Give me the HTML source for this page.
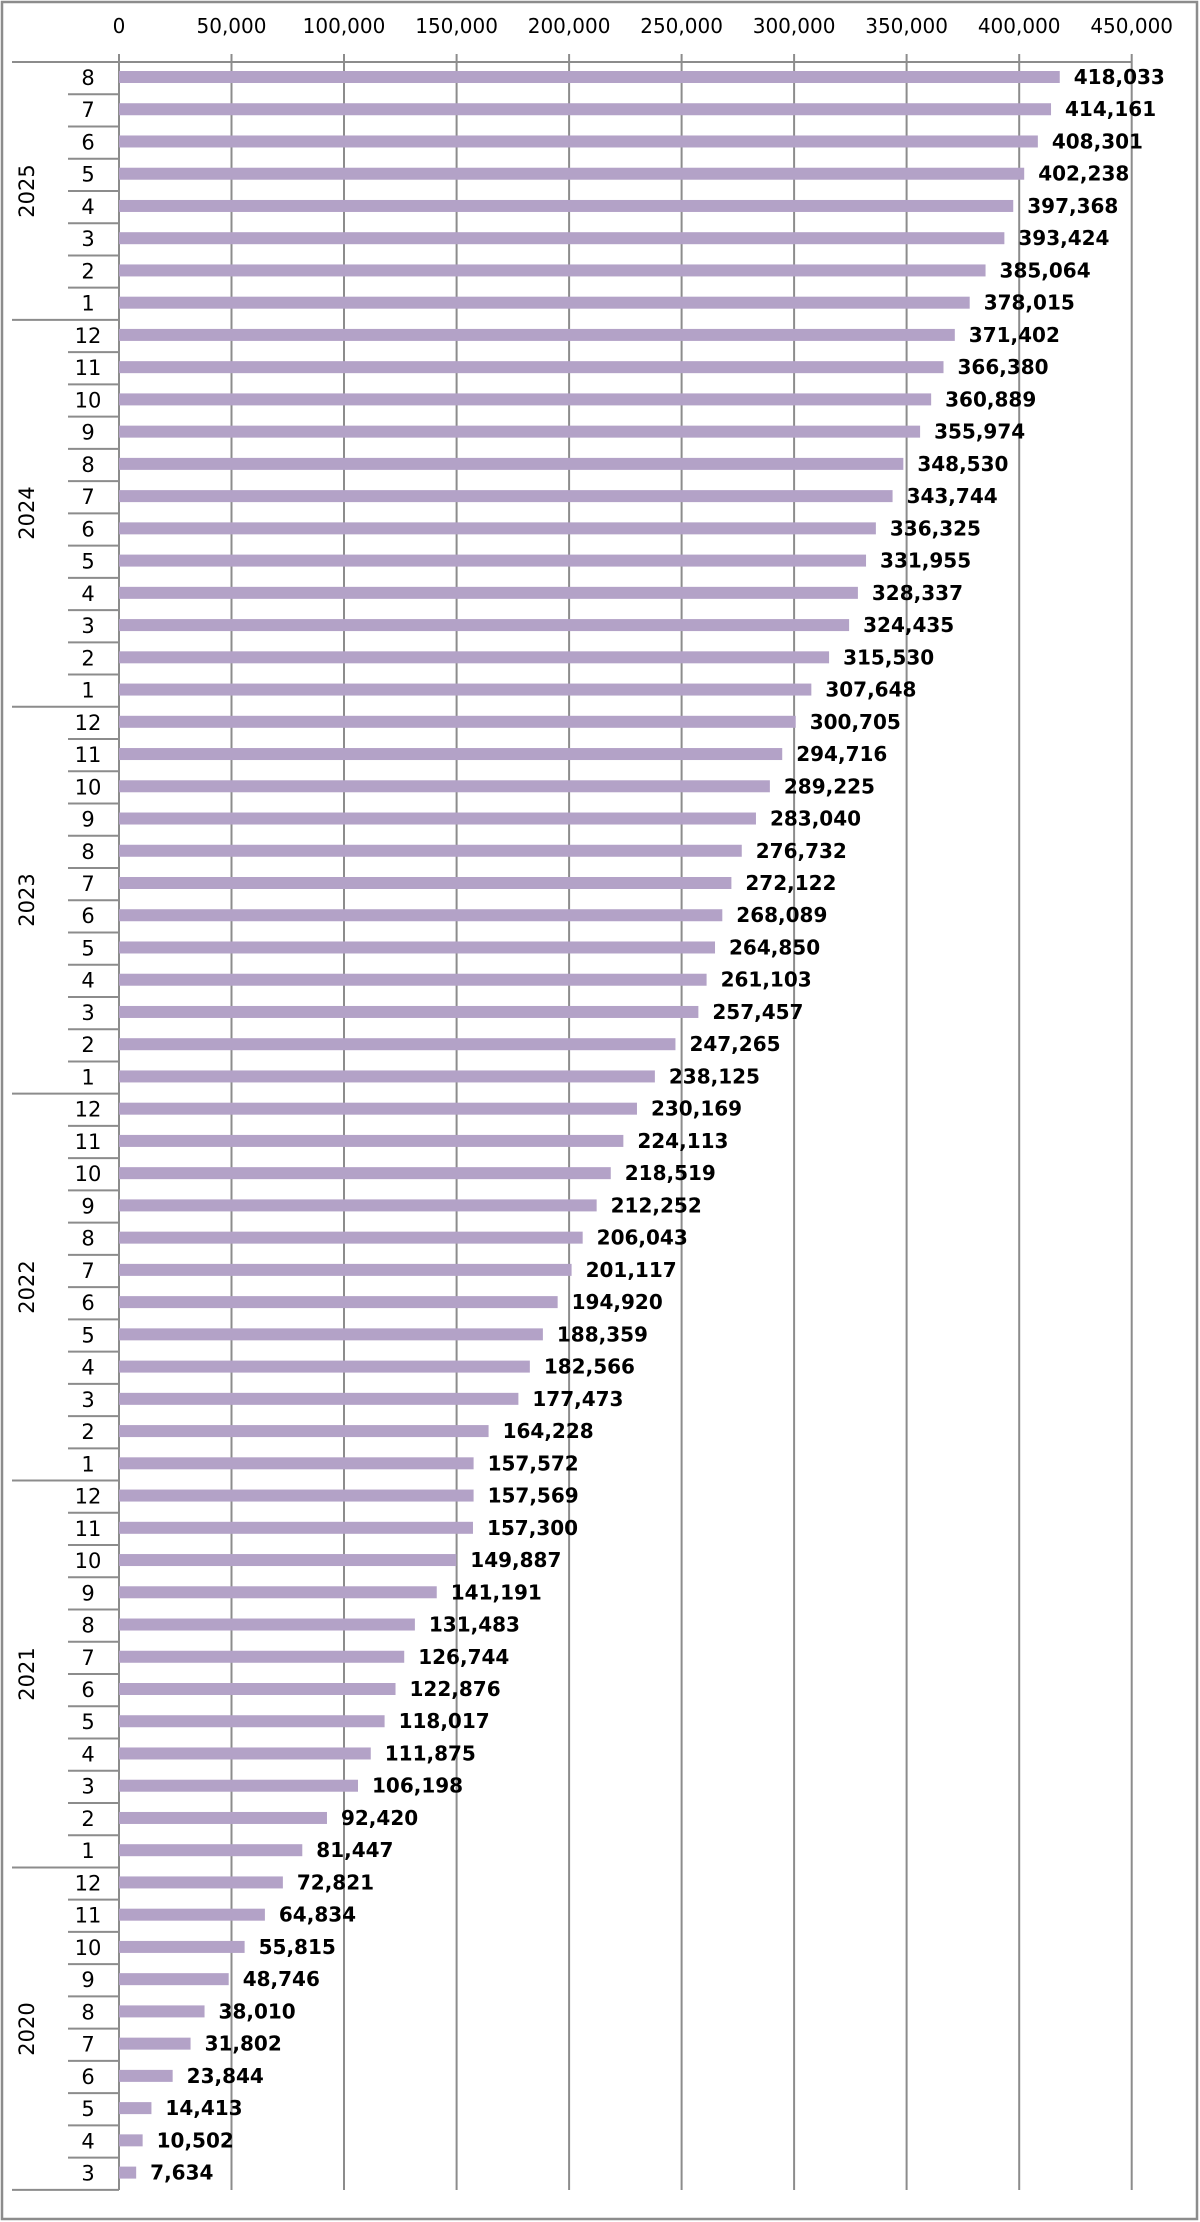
<!DOCTYPE html>
<html><head><meta charset="utf-8">
<style>
html,body{margin:0;padding:0;background:#fff;}
svg{display:block;}
text{font-family:"DejaVu Sans","Liberation Sans",sans-serif;fill:#000;}
.t{font-size:20px;text-anchor:middle;}
.m{font-size:21px;text-anchor:middle;}
.v{font-size:20px;font-weight:bold;}
.y{font-size:21px;text-anchor:middle;}
</style></head>
<body>
<svg width="1200" height="2222" viewBox="0 0 1200 2222" xmlns="http://www.w3.org/2000/svg">
<rect x="2" y="2" width="1195" height="2217" fill="#fff" stroke="#8c8c8c" stroke-width="2.5"/>
<g stroke="#8c8c8c" stroke-width="2">
<line x1="231.5" y1="54" x2="231.5" y2="2190"/>
<line x1="344" y1="54" x2="344" y2="2190"/>
<line x1="456.6" y1="54" x2="456.6" y2="2190"/>
<line x1="569.1" y1="54" x2="569.1" y2="2190"/>
<line x1="681.6" y1="54" x2="681.6" y2="2190"/>
<line x1="794.1" y1="54" x2="794.1" y2="2190"/>
<line x1="906.6" y1="54" x2="906.6" y2="2190"/>
<line x1="1019.2" y1="54" x2="1019.2" y2="2190"/>
<line x1="1131.7" y1="54" x2="1131.7" y2="2190"/>
<line x1="12" y1="62" x2="1132" y2="62"/>
<line x1="119" y1="54" x2="119" y2="2190"/>
</g>
<g>
<text class="t" x="119" y="33">0</text>
<text class="t" x="231.5" y="33">50,000</text>
<text class="t" x="344" y="33">100,000</text>
<text class="t" x="456.6" y="33">150,000</text>
<text class="t" x="569.1" y="33">200,000</text>
<text class="t" x="681.6" y="33">250,000</text>
<text class="t" x="794.1" y="33">300,000</text>
<text class="t" x="906.6" y="33">350,000</text>
<text class="t" x="1019.2" y="33">400,000</text>
<text class="t" x="1131.7" y="33">450,000</text>
</g>
<g>
<text class="y" transform="translate(34,191) rotate(-90)">2025</text>
<text class="y" transform="translate(34,513) rotate(-90)">2024</text>
<text class="y" transform="translate(34,900) rotate(-90)">2023</text>
<text class="y" transform="translate(34,1287) rotate(-90)">2022</text>
<text class="y" transform="translate(34,1674) rotate(-90)">2021</text>
<text class="y" transform="translate(34,2029) rotate(-90)">2020</text>
</g>
<g id="rows">
<g transform="translate(0,0)"><rect x="119" y="71" width="940.75" height="12" fill="#b3a2c7"/><text class="v" x="1073.75" y="84">418,033</text><text class="m" x="88" y="85">8</text><line x1="68" y1="94.24" x2="119" y2="94.24" stroke="#8c8c8c" stroke-width="2"/></g>
<g transform="translate(0,32.24)"><rect x="119" y="71" width="932.03" height="12" fill="#b3a2c7"/><text class="v" x="1065.03" y="84">414,161</text><text class="m" x="88" y="85">7</text><line x1="68" y1="94.24" x2="119" y2="94.24" stroke="#8c8c8c" stroke-width="2"/></g>
<g transform="translate(0,64.48)"><rect x="119" y="71" width="918.85" height="12" fill="#b3a2c7"/><text class="v" x="1051.85" y="84">408,301</text><text class="m" x="88" y="85">6</text><line x1="68" y1="94.24" x2="119" y2="94.24" stroke="#8c8c8c" stroke-width="2"/></g>
<g transform="translate(0,96.72)"><rect x="119" y="71" width="905.2" height="12" fill="#b3a2c7"/><text class="v" x="1038.2" y="84">402,238</text><text class="m" x="88" y="85">5</text><line x1="68" y1="94.24" x2="119" y2="94.24" stroke="#8c8c8c" stroke-width="2"/></g>
<g transform="translate(0,128.96)"><rect x="119" y="71" width="894.24" height="12" fill="#b3a2c7"/><text class="v" x="1027.24" y="84">397,368</text><text class="m" x="88" y="85">4</text><line x1="68" y1="94.24" x2="119" y2="94.24" stroke="#8c8c8c" stroke-width="2"/></g>
<g transform="translate(0,161.2)"><rect x="119" y="71" width="885.37" height="12" fill="#b3a2c7"/><text class="v" x="1018.37" y="84">393,424</text><text class="m" x="88" y="85">3</text><line x1="68" y1="94.24" x2="119" y2="94.24" stroke="#8c8c8c" stroke-width="2"/></g>
<g transform="translate(0,193.44)"><rect x="119" y="71" width="866.55" height="12" fill="#b3a2c7"/><text class="v" x="999.55" y="84">385,064</text><text class="m" x="88" y="85">2</text><line x1="68" y1="94.24" x2="119" y2="94.24" stroke="#8c8c8c" stroke-width="2"/></g>
<g transform="translate(0,225.68)"><rect x="119" y="71" width="850.69" height="12" fill="#b3a2c7"/><text class="v" x="983.69" y="84">378,015</text><text class="m" x="88" y="85">1</text><line x1="12" y1="94.24" x2="119" y2="94.24" stroke="#8c8c8c" stroke-width="2"/></g>
<g transform="translate(0,257.92)"><rect x="119" y="71" width="835.81" height="12" fill="#b3a2c7"/><text class="v" x="968.81" y="84">371,402</text><text class="m" x="88" y="85">12</text><line x1="68" y1="94.24" x2="119" y2="94.24" stroke="#8c8c8c" stroke-width="2"/></g>
<g transform="translate(0,290.16)"><rect x="119" y="71" width="824.51" height="12" fill="#b3a2c7"/><text class="v" x="957.51" y="84">366,380</text><text class="m" x="88" y="85">11</text><line x1="68" y1="94.24" x2="119" y2="94.24" stroke="#8c8c8c" stroke-width="2"/></g>
<g transform="translate(0,322.4)"><rect x="119" y="71" width="812.15" height="12" fill="#b3a2c7"/><text class="v" x="945.15" y="84">360,889</text><text class="m" x="88" y="85">10</text><line x1="68" y1="94.24" x2="119" y2="94.24" stroke="#8c8c8c" stroke-width="2"/></g>
<g transform="translate(0,354.64)"><rect x="119" y="71" width="801.09" height="12" fill="#b3a2c7"/><text class="v" x="934.09" y="84">355,974</text><text class="m" x="88" y="85">9</text><line x1="68" y1="94.24" x2="119" y2="94.24" stroke="#8c8c8c" stroke-width="2"/></g>
<g transform="translate(0,386.88)"><rect x="119" y="71" width="784.34" height="12" fill="#b3a2c7"/><text class="v" x="917.34" y="84">348,530</text><text class="m" x="88" y="85">8</text><line x1="68" y1="94.24" x2="119" y2="94.24" stroke="#8c8c8c" stroke-width="2"/></g>
<g transform="translate(0,419.12)"><rect x="119" y="71" width="773.57" height="12" fill="#b3a2c7"/><text class="v" x="906.57" y="84">343,744</text><text class="m" x="88" y="85">7</text><line x1="68" y1="94.24" x2="119" y2="94.24" stroke="#8c8c8c" stroke-width="2"/></g>
<g transform="translate(0,451.36)"><rect x="119" y="71" width="756.87" height="12" fill="#b3a2c7"/><text class="v" x="889.87" y="84">336,325</text><text class="m" x="88" y="85">6</text><line x1="68" y1="94.24" x2="119" y2="94.24" stroke="#8c8c8c" stroke-width="2"/></g>
<g transform="translate(0,483.6)"><rect x="119" y="71" width="747.04" height="12" fill="#b3a2c7"/><text class="v" x="880.04" y="84">331,955</text><text class="m" x="88" y="85">5</text><line x1="68" y1="94.24" x2="119" y2="94.24" stroke="#8c8c8c" stroke-width="2"/></g>
<g transform="translate(0,515.84)"><rect x="119" y="71" width="738.9" height="12" fill="#b3a2c7"/><text class="v" x="871.9" y="84">328,337</text><text class="m" x="88" y="85">4</text><line x1="68" y1="94.24" x2="119" y2="94.24" stroke="#8c8c8c" stroke-width="2"/></g>
<g transform="translate(0,548.08)"><rect x="119" y="71" width="730.11" height="12" fill="#b3a2c7"/><text class="v" x="863.11" y="84">324,435</text><text class="m" x="88" y="85">3</text><line x1="68" y1="94.24" x2="119" y2="94.24" stroke="#8c8c8c" stroke-width="2"/></g>
<g transform="translate(0,580.32)"><rect x="119" y="71" width="710.08" height="12" fill="#b3a2c7"/><text class="v" x="843.08" y="84">315,530</text><text class="m" x="88" y="85">2</text><line x1="68" y1="94.24" x2="119" y2="94.24" stroke="#8c8c8c" stroke-width="2"/></g>
<g transform="translate(0,612.56)"><rect x="119" y="71" width="692.34" height="12" fill="#b3a2c7"/><text class="v" x="825.34" y="84">307,648</text><text class="m" x="88" y="85">1</text><line x1="12" y1="94.24" x2="119" y2="94.24" stroke="#8c8c8c" stroke-width="2"/></g>
<g transform="translate(0,644.8)"><rect x="119" y="71" width="676.71" height="12" fill="#b3a2c7"/><text class="v" x="809.71" y="84">300,705</text><text class="m" x="88" y="85">12</text><line x1="68" y1="94.24" x2="119" y2="94.24" stroke="#8c8c8c" stroke-width="2"/></g>
<g transform="translate(0,677.04)"><rect x="119" y="71" width="663.23" height="12" fill="#b3a2c7"/><text class="v" x="796.23" y="84">294,716</text><text class="m" x="88" y="85">11</text><line x1="68" y1="94.24" x2="119" y2="94.24" stroke="#8c8c8c" stroke-width="2"/></g>
<g transform="translate(0,709.28)"><rect x="119" y="71" width="650.88" height="12" fill="#b3a2c7"/><text class="v" x="783.88" y="84">289,225</text><text class="m" x="88" y="85">10</text><line x1="68" y1="94.24" x2="119" y2="94.24" stroke="#8c8c8c" stroke-width="2"/></g>
<g transform="translate(0,741.52)"><rect x="119" y="71" width="636.96" height="12" fill="#b3a2c7"/><text class="v" x="769.96" y="84">283,040</text><text class="m" x="88" y="85">9</text><line x1="68" y1="94.24" x2="119" y2="94.24" stroke="#8c8c8c" stroke-width="2"/></g>
<g transform="translate(0,773.76)"><rect x="119" y="71" width="622.76" height="12" fill="#b3a2c7"/><text class="v" x="755.76" y="84">276,732</text><text class="m" x="88" y="85">8</text><line x1="68" y1="94.24" x2="119" y2="94.24" stroke="#8c8c8c" stroke-width="2"/></g>
<g transform="translate(0,806)"><rect x="119" y="71" width="612.39" height="12" fill="#b3a2c7"/><text class="v" x="745.39" y="84">272,122</text><text class="m" x="88" y="85">7</text><line x1="68" y1="94.24" x2="119" y2="94.24" stroke="#8c8c8c" stroke-width="2"/></g>
<g transform="translate(0,838.24)"><rect x="119" y="71" width="603.31" height="12" fill="#b3a2c7"/><text class="v" x="736.31" y="84">268,089</text><text class="m" x="88" y="85">6</text><line x1="68" y1="94.24" x2="119" y2="94.24" stroke="#8c8c8c" stroke-width="2"/></g>
<g transform="translate(0,870.48)"><rect x="119" y="71" width="596.02" height="12" fill="#b3a2c7"/><text class="v" x="729.02" y="84">264,850</text><text class="m" x="88" y="85">5</text><line x1="68" y1="94.24" x2="119" y2="94.24" stroke="#8c8c8c" stroke-width="2"/></g>
<g transform="translate(0,902.72)"><rect x="119" y="71" width="587.59" height="12" fill="#b3a2c7"/><text class="v" x="720.59" y="84">261,103</text><text class="m" x="88" y="85">4</text><line x1="68" y1="94.24" x2="119" y2="94.24" stroke="#8c8c8c" stroke-width="2"/></g>
<g transform="translate(0,934.96)"><rect x="119" y="71" width="579.38" height="12" fill="#b3a2c7"/><text class="v" x="712.38" y="84">257,457</text><text class="m" x="88" y="85">3</text><line x1="68" y1="94.24" x2="119" y2="94.24" stroke="#8c8c8c" stroke-width="2"/></g>
<g transform="translate(0,967.2)"><rect x="119" y="71" width="556.45" height="12" fill="#b3a2c7"/><text class="v" x="689.45" y="84">247,265</text><text class="m" x="88" y="85">2</text><line x1="68" y1="94.24" x2="119" y2="94.24" stroke="#8c8c8c" stroke-width="2"/></g>
<g transform="translate(0,999.44)"><rect x="119" y="71" width="535.88" height="12" fill="#b3a2c7"/><text class="v" x="668.88" y="84">238,125</text><text class="m" x="88" y="85">1</text><line x1="12" y1="94.24" x2="119" y2="94.24" stroke="#8c8c8c" stroke-width="2"/></g>
<g transform="translate(0,1031.68)"><rect x="119" y="71" width="517.97" height="12" fill="#b3a2c7"/><text class="v" x="650.97" y="84">230,169</text><text class="m" x="88" y="85">12</text><line x1="68" y1="94.24" x2="119" y2="94.24" stroke="#8c8c8c" stroke-width="2"/></g>
<g transform="translate(0,1063.92)"><rect x="119" y="71" width="504.35" height="12" fill="#b3a2c7"/><text class="v" x="637.35" y="84">224,113</text><text class="m" x="88" y="85">11</text><line x1="68" y1="94.24" x2="119" y2="94.24" stroke="#8c8c8c" stroke-width="2"/></g>
<g transform="translate(0,1096.16)"><rect x="119" y="71" width="491.76" height="12" fill="#b3a2c7"/><text class="v" x="624.76" y="84">218,519</text><text class="m" x="88" y="85">10</text><line x1="68" y1="94.24" x2="119" y2="94.24" stroke="#8c8c8c" stroke-width="2"/></g>
<g transform="translate(0,1128.4)"><rect x="119" y="71" width="477.65" height="12" fill="#b3a2c7"/><text class="v" x="610.65" y="84">212,252</text><text class="m" x="88" y="85">9</text><line x1="68" y1="94.24" x2="119" y2="94.24" stroke="#8c8c8c" stroke-width="2"/></g>
<g transform="translate(0,1160.64)"><rect x="119" y="71" width="463.68" height="12" fill="#b3a2c7"/><text class="v" x="596.68" y="84">206,043</text><text class="m" x="88" y="85">8</text><line x1="68" y1="94.24" x2="119" y2="94.24" stroke="#8c8c8c" stroke-width="2"/></g>
<g transform="translate(0,1192.88)"><rect x="119" y="71" width="452.59" height="12" fill="#b3a2c7"/><text class="v" x="585.59" y="84">201,117</text><text class="m" x="88" y="85">7</text><line x1="68" y1="94.24" x2="119" y2="94.24" stroke="#8c8c8c" stroke-width="2"/></g>
<g transform="translate(0,1225.12)"><rect x="119" y="71" width="438.65" height="12" fill="#b3a2c7"/><text class="v" x="571.65" y="84">194,920</text><text class="m" x="88" y="85">6</text><line x1="68" y1="94.24" x2="119" y2="94.24" stroke="#8c8c8c" stroke-width="2"/></g>
<g transform="translate(0,1257.36)"><rect x="119" y="71" width="423.89" height="12" fill="#b3a2c7"/><text class="v" x="556.89" y="84">188,359</text><text class="m" x="88" y="85">5</text><line x1="68" y1="94.24" x2="119" y2="94.24" stroke="#8c8c8c" stroke-width="2"/></g>
<g transform="translate(0,1289.6)"><rect x="119" y="71" width="410.85" height="12" fill="#b3a2c7"/><text class="v" x="543.85" y="84">182,566</text><text class="m" x="88" y="85">4</text><line x1="68" y1="94.24" x2="119" y2="94.24" stroke="#8c8c8c" stroke-width="2"/></g>
<g transform="translate(0,1321.84)"><rect x="119" y="71" width="399.39" height="12" fill="#b3a2c7"/><text class="v" x="532.39" y="84">177,473</text><text class="m" x="88" y="85">3</text><line x1="68" y1="94.24" x2="119" y2="94.24" stroke="#8c8c8c" stroke-width="2"/></g>
<g transform="translate(0,1354.08)"><rect x="119" y="71" width="369.58" height="12" fill="#b3a2c7"/><text class="v" x="502.58" y="84">164,228</text><text class="m" x="88" y="85">2</text><line x1="68" y1="94.24" x2="119" y2="94.24" stroke="#8c8c8c" stroke-width="2"/></g>
<g transform="translate(0,1386.32)"><rect x="119" y="71" width="354.6" height="12" fill="#b3a2c7"/><text class="v" x="487.6" y="84">157,572</text><text class="m" x="88" y="85">1</text><line x1="12" y1="94.24" x2="119" y2="94.24" stroke="#8c8c8c" stroke-width="2"/></g>
<g transform="translate(0,1418.56)"><rect x="119" y="71" width="354.59" height="12" fill="#b3a2c7"/><text class="v" x="487.59" y="84">157,569</text><text class="m" x="88" y="85">12</text><line x1="68" y1="94.24" x2="119" y2="94.24" stroke="#8c8c8c" stroke-width="2"/></g>
<g transform="translate(0,1450.8)"><rect x="119" y="71" width="353.98" height="12" fill="#b3a2c7"/><text class="v" x="486.98" y="84">157,300</text><text class="m" x="88" y="85">11</text><line x1="68" y1="94.24" x2="119" y2="94.24" stroke="#8c8c8c" stroke-width="2"/></g>
<g transform="translate(0,1483.04)"><rect x="119" y="71" width="337.31" height="12" fill="#b3a2c7"/><text class="v" x="470.31" y="84">149,887</text><text class="m" x="88" y="85">10</text><line x1="68" y1="94.24" x2="119" y2="94.24" stroke="#8c8c8c" stroke-width="2"/></g>
<g transform="translate(0,1515.28)"><rect x="119" y="71" width="317.74" height="12" fill="#b3a2c7"/><text class="v" x="450.74" y="84">141,191</text><text class="m" x="88" y="85">9</text><line x1="68" y1="94.24" x2="119" y2="94.24" stroke="#8c8c8c" stroke-width="2"/></g>
<g transform="translate(0,1547.52)"><rect x="119" y="71" width="295.89" height="12" fill="#b3a2c7"/><text class="v" x="428.89" y="84">131,483</text><text class="m" x="88" y="85">8</text><line x1="68" y1="94.24" x2="119" y2="94.24" stroke="#8c8c8c" stroke-width="2"/></g>
<g transform="translate(0,1579.76)"><rect x="119" y="71" width="285.23" height="12" fill="#b3a2c7"/><text class="v" x="418.23" y="84">126,744</text><text class="m" x="88" y="85">7</text><line x1="68" y1="94.24" x2="119" y2="94.24" stroke="#8c8c8c" stroke-width="2"/></g>
<g transform="translate(0,1612)"><rect x="119" y="71" width="276.52" height="12" fill="#b3a2c7"/><text class="v" x="409.52" y="84">122,876</text><text class="m" x="88" y="85">6</text><line x1="68" y1="94.24" x2="119" y2="94.24" stroke="#8c8c8c" stroke-width="2"/></g>
<g transform="translate(0,1644.24)"><rect x="119" y="71" width="265.59" height="12" fill="#b3a2c7"/><text class="v" x="398.59" y="84">118,017</text><text class="m" x="88" y="85">5</text><line x1="68" y1="94.24" x2="119" y2="94.24" stroke="#8c8c8c" stroke-width="2"/></g>
<g transform="translate(0,1676.48)"><rect x="119" y="71" width="251.76" height="12" fill="#b3a2c7"/><text class="v" x="384.76" y="84">111,875</text><text class="m" x="88" y="85">4</text><line x1="68" y1="94.24" x2="119" y2="94.24" stroke="#8c8c8c" stroke-width="2"/></g>
<g transform="translate(0,1708.72)"><rect x="119" y="71" width="238.99" height="12" fill="#b3a2c7"/><text class="v" x="371.99" y="84">106,198</text><text class="m" x="88" y="85">3</text><line x1="68" y1="94.24" x2="119" y2="94.24" stroke="#8c8c8c" stroke-width="2"/></g>
<g transform="translate(0,1740.96)"><rect x="119" y="71" width="207.98" height="12" fill="#b3a2c7"/><text class="v" x="340.98" y="84">92,420</text><text class="m" x="88" y="85">2</text><line x1="68" y1="94.24" x2="119" y2="94.24" stroke="#8c8c8c" stroke-width="2"/></g>
<g transform="translate(0,1773.2)"><rect x="119" y="71" width="183.29" height="12" fill="#b3a2c7"/><text class="v" x="316.29" y="84">81,447</text><text class="m" x="88" y="85">1</text><line x1="12" y1="94.24" x2="119" y2="94.24" stroke="#8c8c8c" stroke-width="2"/></g>
<g transform="translate(0,1805.44)"><rect x="119" y="71" width="163.88" height="12" fill="#b3a2c7"/><text class="v" x="296.88" y="84">72,821</text><text class="m" x="88" y="85">12</text><line x1="68" y1="94.24" x2="119" y2="94.24" stroke="#8c8c8c" stroke-width="2"/></g>
<g transform="translate(0,1837.68)"><rect x="119" y="71" width="145.9" height="12" fill="#b3a2c7"/><text class="v" x="278.9" y="84">64,834</text><text class="m" x="88" y="85">11</text><line x1="68" y1="94.24" x2="119" y2="94.24" stroke="#8c8c8c" stroke-width="2"/></g>
<g transform="translate(0,1869.92)"><rect x="119" y="71" width="125.61" height="12" fill="#b3a2c7"/><text class="v" x="258.61" y="84">55,815</text><text class="m" x="88" y="85">10</text><line x1="68" y1="94.24" x2="119" y2="94.24" stroke="#8c8c8c" stroke-width="2"/></g>
<g transform="translate(0,1902.16)"><rect x="119" y="71" width="109.7" height="12" fill="#b3a2c7"/><text class="v" x="242.7" y="84">48,746</text><text class="m" x="88" y="85">9</text><line x1="68" y1="94.24" x2="119" y2="94.24" stroke="#8c8c8c" stroke-width="2"/></g>
<g transform="translate(0,1934.4)"><rect x="119" y="71" width="85.54" height="12" fill="#b3a2c7"/><text class="v" x="218.54" y="84">38,010</text><text class="m" x="88" y="85">8</text><line x1="68" y1="94.24" x2="119" y2="94.24" stroke="#8c8c8c" stroke-width="2"/></g>
<g transform="translate(0,1966.64)"><rect x="119" y="71" width="71.57" height="12" fill="#b3a2c7"/><text class="v" x="204.57" y="84">31,802</text><text class="m" x="88" y="85">7</text><line x1="68" y1="94.24" x2="119" y2="94.24" stroke="#8c8c8c" stroke-width="2"/></g>
<g transform="translate(0,1998.88)"><rect x="119" y="71" width="53.66" height="12" fill="#b3a2c7"/><text class="v" x="186.66" y="84">23,844</text><text class="m" x="88" y="85">6</text><line x1="68" y1="94.24" x2="119" y2="94.24" stroke="#8c8c8c" stroke-width="2"/></g>
<g transform="translate(0,2031.12)"><rect x="119" y="71" width="32.43" height="12" fill="#b3a2c7"/><text class="v" x="165.43" y="84">14,413</text><text class="m" x="88" y="85">5</text><line x1="68" y1="94.24" x2="119" y2="94.24" stroke="#8c8c8c" stroke-width="2"/></g>
<g transform="translate(0,2063.36)"><rect x="119" y="71" width="23.63" height="12" fill="#b3a2c7"/><text class="v" x="156.63" y="84">10,502</text><text class="m" x="88" y="85">4</text><line x1="68" y1="94.24" x2="119" y2="94.24" stroke="#8c8c8c" stroke-width="2"/></g>
<g transform="translate(0,2095.6)"><rect x="119" y="71" width="17.18" height="12" fill="#b3a2c7"/><text class="v" x="150.18" y="84">7,634</text><text class="m" x="88" y="85">3</text><line x1="12" y1="94.24" x2="119" y2="94.24" stroke="#8c8c8c" stroke-width="2"/></g>
</g>
</svg>
</body></html>
